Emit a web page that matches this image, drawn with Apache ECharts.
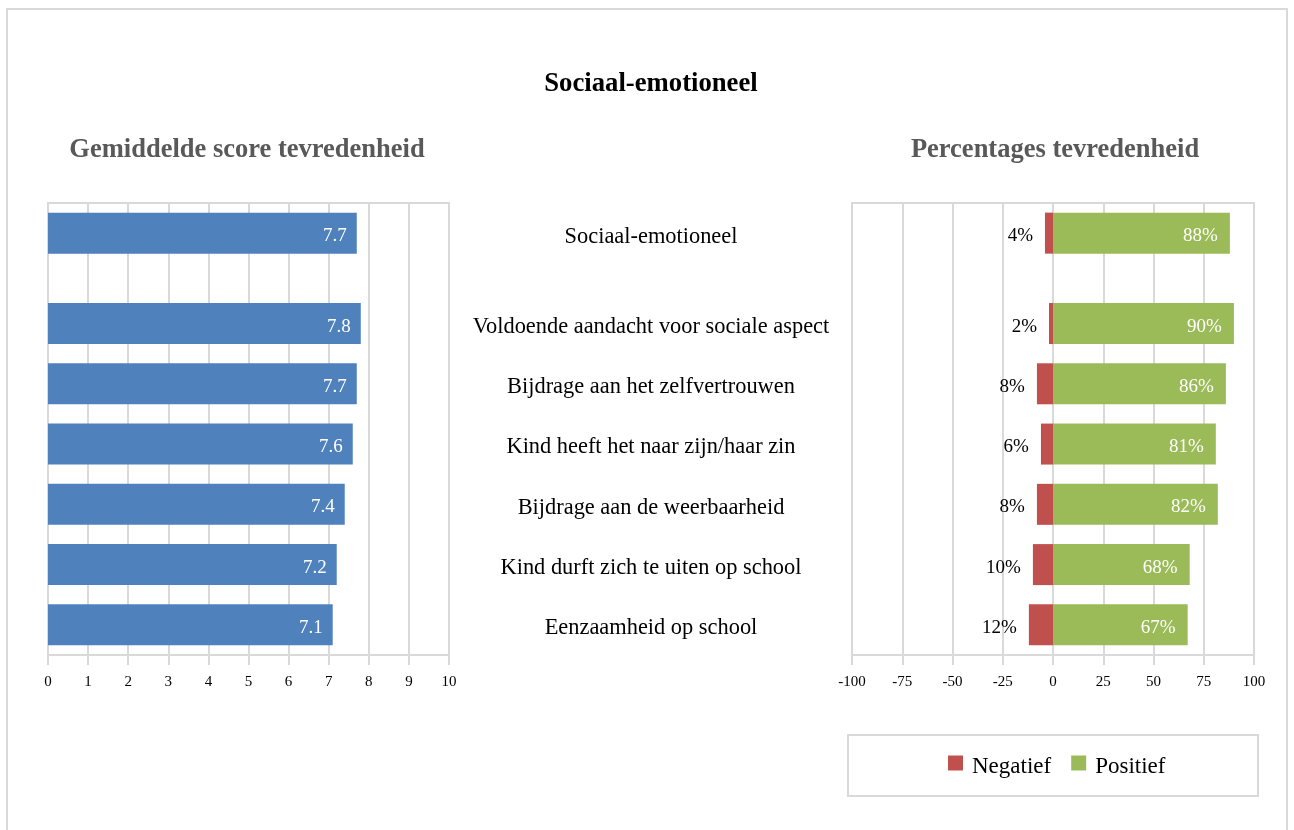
<!DOCTYPE html>
<html>
<head>
<meta charset="utf-8">
<script src="https://cdn.jsdelivr.net/npm/echarts@6/dist/echarts.min.js"></script>
<style>
  html, body { margin: 0; padding: 0; background: #ffffff; }
  #chart { width: 1294px; height: 830px; }
</style>
</head>
<body>
<div id="chart"></div>
<script>
// ---- Data (top to bottom) ----
const categories = [
  'Sociaal-emotioneel',
  'Voldoende aandacht voor sociale aspect',
  'Bijdrage aan het zelfvertrouwen',
  'Kind heeft het naar zijn/haar zin',
  'Bijdrage aan de weerbaarheid',
  'Kind durft zich te uiten op school',
  'Eenzaamheid op school'
];
const scores = [7.7, 7.8, 7.7, 7.6, 7.4, 7.2, 7.1];
const negatief = [4, 2, 8, 6, 8, 10, 12];
const positief = [88, 90, 86, 81, 82, 68, 67];
const scoreTicks = [0, 10, 1];          // min, max, interval
const pctTicks = [-100, 100, 25];       // min, max, interval

// ---- Layout of category slots: each row uses 2 half-slots, extra half gap after the summary row ----
const slotNames = [];
const slotIndex = [];
let spacer = 0;
function addSpacer() { spacer++; slotNames.push(' '.repeat(spacer)); }
addSpacer();
categories.forEach(function (c, i) {
  slotIndex.push(slotNames.length);
  slotNames.push(c);
  addSpacer();
  if (i === 0) addSpacer();
});
function toSlots(values, fn) {
  const arr = slotNames.map(function () { return null; });
  values.forEach(function (v, i) { arr[slotIndex[i]] = fn ? fn(v) : v; });
  return arr;
}

const FONT = 'Liberation Serif';
const GRID_COLOR = '#d9d9d9';

const chart = echarts.init(document.getElementById('chart'), null, { renderer: 'canvas' });
chart.setOption({
  backgroundColor: '#ffffff',
  animation: false,
  textStyle: { fontFamily: FONT },
  graphic: [
    { type: 'rect', shape: { x: 7, y: 9, width: 1280, height: 830 },
      style: { fill: 'none', stroke: GRID_COLOR, lineWidth: 2 }, silent: true },
    { type: 'rect', shape: { x: 848, y: 735, width: 410, height: 61 },
      style: { fill: 'none', stroke: GRID_COLOR, lineWidth: 2 }, silent: true },
    { type: 'text', x: 651, y: 84,
      style: { text: 'Sociaal-emotioneel', font: 'bold 26.7px "Liberation Serif"', fill: '#000000', align: 'center', verticalAlign: 'middle' } },
    { type: 'text', x: 247, y: 150,
      style: { text: 'Gemiddelde score tevredenheid', font: 'bold 26.5px "Liberation Serif"', fill: '#595959', align: 'center', verticalAlign: 'middle' } },
    { type: 'text', x: 1055, y: 150,
      style: { text: 'Percentages tevredenheid', font: 'bold 26.5px "Liberation Serif"', fill: '#595959', align: 'center', verticalAlign: 'middle' } }
  ],
  legend: {
    data: ['Negatief', 'Positief'],
    left: 943, top: 750,
    icon: 'rect', itemWidth: 15, itemHeight: 15, itemGap: 20,
    formatter: function (name) { return '{t|' + name + '}'; },
    textStyle: { fontFamily: FONT, fontSize: 23, color: '#000000',
      rich: { t: { fontFamily: FONT, fontSize: 23, color: '#000000', padding: [7, 0, 0, 4] } } }
  },
  grid: [
    { left: 48, top: 203, width: 401, height: 452, show: true, borderColor: GRID_COLOR, borderWidth: 2 },
    { left: 852, top: 203, width: 402, height: 452, show: true, borderColor: GRID_COLOR, borderWidth: 2 }
  ],
  xAxis: [
    { type: 'value', gridIndex: 0, min: scoreTicks[0], max: scoreTicks[1], interval: scoreTicks[2],
      axisLine: { show: true, lineStyle: { color: GRID_COLOR, width: 2 } },
      axisTick: { show: true, length: 10, lineStyle: { color: GRID_COLOR, width: 2 } },
      splitLine: { show: true, lineStyle: { color: GRID_COLOR, width: 2 } },
      axisLabel: { color: '#000000', fontFamily: FONT, fontSize: 15, margin: 20 } },
    { type: 'value', gridIndex: 1, min: pctTicks[0], max: pctTicks[1], interval: pctTicks[2],
      axisLine: { show: true, lineStyle: { color: GRID_COLOR, width: 2 } },
      axisTick: { show: true, length: 10, lineStyle: { color: GRID_COLOR, width: 2 } },
      splitLine: { show: true, lineStyle: { color: GRID_COLOR, width: 2 } },
      axisLabel: { color: '#000000', fontFamily: FONT, fontSize: 15, margin: 20 } }
  ],
  yAxis: [
    { type: 'category', gridIndex: 0, data: slotNames, inverse: true, boundaryGap: false,
      position: 'right',
      axisLine: { show: false }, axisTick: { show: false }, splitLine: { show: false },
      axisLabel: { show: true, interval: 0, align: 'center', margin: 202,
        formatter: function (v) { return v.trim() ? '{c|' + v + '}' : ''; },
        rich: { c: { fontFamily: FONT, fontSize: 22.4, color: '#000000', padding: [7, 0, 0, 0] } },
        color: '#000000', fontFamily: FONT, fontSize: 22.4 } },
    { type: 'category', gridIndex: 1, data: slotNames, inverse: true, boundaryGap: false,
      axisLine: { show: false }, axisTick: { show: false }, splitLine: { show: false },
      axisLabel: { show: false } }
  ],
  series: [
    { name: 'Score', type: 'bar', xAxisIndex: 0, yAxisIndex: 0, barWidth: 41,
      data: toSlots(scores),
      itemStyle: { color: '#4F81BD' },
      label: { show: true, position: 'insideRight', distance: 10, offset: [0, 3], color: '#ffffff', fontFamily: FONT, fontSize: 19,
        formatter: function (p) { return p.value == null ? '' : Number(p.value).toFixed(1); } } },
    { name: 'Negatief', type: 'bar', xAxisIndex: 1, yAxisIndex: 1, barWidth: 41, stack: 'pct',
      data: toSlots(negatief, function (v) { return -v; }),
      itemStyle: { color: '#C0504D' },
      label: { show: true, position: 'left', distance: 12, offset: [0, 3], color: '#000000', fontFamily: FONT, fontSize: 19,
        formatter: function (p) { return p.value == null ? '' : Math.abs(p.value) + '%'; } } },
    { name: 'Positief', type: 'bar', xAxisIndex: 1, yAxisIndex: 1, barWidth: 41, stack: 'pct',
      data: toSlots(positief),
      itemStyle: { color: '#9BBB59' },
      label: { show: true, position: 'insideRight', distance: 12, offset: [0, 3], color: '#ffffff', fontFamily: FONT, fontSize: 19,
        formatter: function (p) { return p.value == null ? '' : p.value + '%'; } } }
  ]
});
</script>
</body>
</html>
